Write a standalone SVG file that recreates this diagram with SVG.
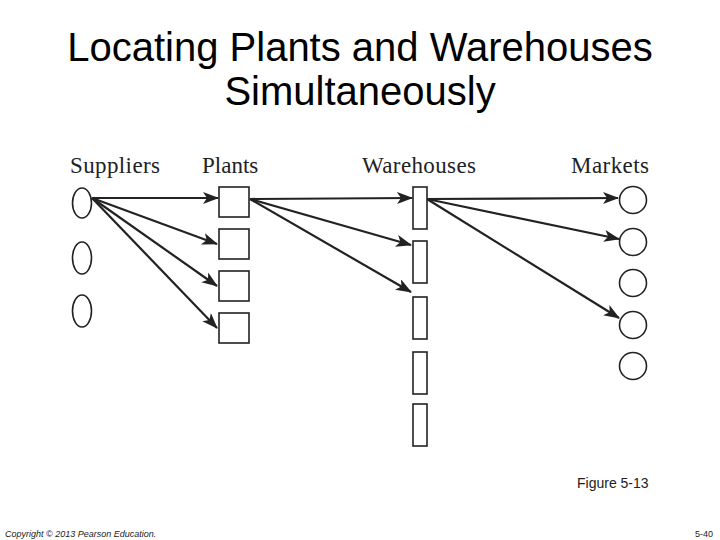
<svg xmlns="http://www.w3.org/2000/svg" width="720" height="540" viewBox="0 0 720 540">
<style>
.title{font-family:"Liberation Sans",Arial,sans-serif;font-size:40px;fill:#000;text-anchor:middle}
.head{font-family:"Liberation Serif","Times New Roman",serif;font-size:23px;fill:#222}
.node{fill:#fff;stroke:#222;stroke-width:1.6}
.edge{stroke:#222;stroke-width:2.2;fill:none;marker-end:url(#ah)}
.small{font-family:"Liberation Sans",Arial,sans-serif;fill:#222}
</style>
<defs>
<marker id="ah" markerUnits="userSpaceOnUse" markerWidth="18" markerHeight="14" refX="15" refY="6" orient="auto" viewBox="0 0 18 14">
<path d="M0,0 L16,6 L0,12 L4,6 z" fill="#222"/>
</marker>
</defs>
<rect width="720" height="540" fill="#fff"/>
<text class="title" x="360" y="61">Locating Plants and Warehouses</text>
<text class="title" x="360" y="105">Simultaneously</text>
<g id="headers">
<text class="head" x="70" y="173" textLength="90">Suppliers</text>
<text class="head" x="202" y="173">Plants</text>
<text class="head" x="362" y="173" textLength="114">Warehouses</text>
<text class="head" x="571" y="173" textLength="78">Markets</text>
</g>
<g id="connectors">
<line class="edge" x1="92" y1="198" x2="218" y2="198"/>
<line class="edge" x1="92" y1="198" x2="217" y2="244"/>
<line class="edge" x1="92" y1="198" x2="217" y2="286"/>
<line class="edge" x1="92" y1="198" x2="217" y2="328"/>
<line class="edge" x1="250" y1="199" x2="412" y2="198"/>
<line class="edge" x1="250" y1="199" x2="411" y2="245"/>
<line class="edge" x1="250" y1="199" x2="411" y2="292"/>
<line class="edge" x1="427" y1="199" x2="618" y2="198"/>
<line class="edge" x1="427" y1="199" x2="619" y2="239"/>
<line class="edge" x1="427" y1="199" x2="619" y2="318"/>
</g>
<g id="supplier1"><ellipse class="node" cx="82" cy="203" rx="9.5" ry="15"/></g>
<g id="supplier2"><ellipse class="node" cx="82" cy="258" rx="9.5" ry="16"/></g>
<g id="supplier3"><ellipse class="node" cx="82" cy="311" rx="9.5" ry="16"/></g>
<g id="plant1"><rect class="node" x="219" y="187" width="30" height="30"/></g>
<g id="plant2"><rect class="node" x="219" y="229" width="30" height="30"/></g>
<g id="plant3"><rect class="node" x="219" y="271" width="30" height="30"/></g>
<g id="plant4"><rect class="node" x="219" y="313" width="30" height="30"/></g>
<g id="warehouse1"><rect class="node" x="413" y="187" width="14" height="42"/></g>
<g id="warehouse2"><rect class="node" x="413" y="241" width="14" height="42"/></g>
<g id="warehouse3"><rect class="node" x="413" y="297" width="14" height="42"/></g>
<g id="warehouse4"><rect class="node" x="413" y="352" width="14" height="42"/></g>
<g id="warehouse5"><rect class="node" x="413" y="404" width="14" height="42"/></g>
<g id="market1"><circle class="node" cx="633" cy="200" r="13.5"/></g>
<g id="market2"><circle class="node" cx="633" cy="242" r="13.5"/></g>
<g id="market3"><circle class="node" cx="633" cy="283" r="13.5"/></g>
<g id="market4"><circle class="node" cx="633" cy="325" r="13.5"/></g>
<g id="market5"><circle class="node" cx="633" cy="366" r="13.5"/></g>
<text class="small" x="577" y="488" font-size="14">Figure 5-13</text>
<text class="small" x="5" y="537" font-size="9" font-style="italic">Copyright © 2013 Pearson Education.</text>
<text class="small" x="713" y="537" font-size="9" text-anchor="end">5-40</text>
</svg>
